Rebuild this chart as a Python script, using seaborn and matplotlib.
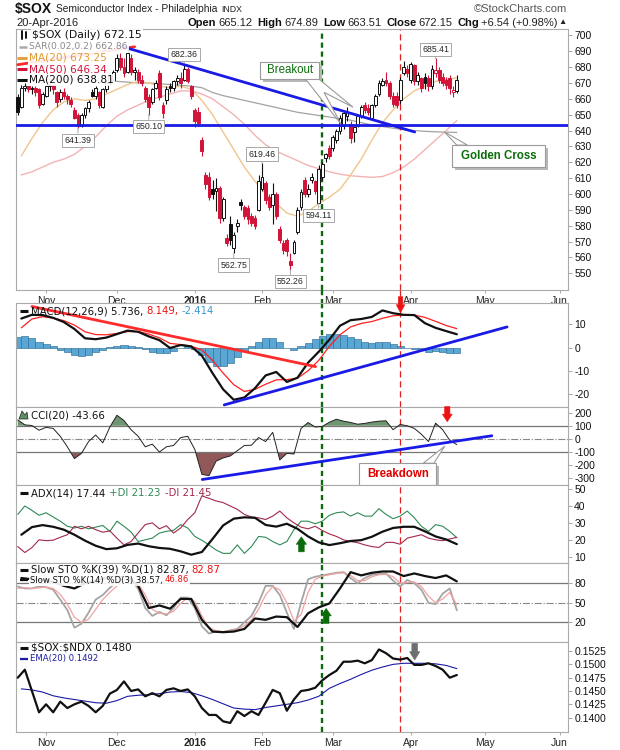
import matplotlib
matplotlib.use("Agg")
import matplotlib.pyplot as plt
from matplotlib.lines import Line2D
from matplotlib.patches import Polygon, Rectangle
from matplotlib.ticker import FormatStrFormatter
import numpy as np
import seaborn as sns

# trading-day index: 0 = 2-Nov-2015 ... 116 = 20-Apr-2016
days = np.arange(-8, 117)
opens = [661, 655, 667, 668, 666, 667, 666, 657, 662, 668, 669, 664, 660, 664, 662, 659, 653, 650, 643, 650,
         654, 664, 662, 664, 655, 666, 670, 672, 678, 686, 680, 677, 686, 677, 677, 672, 667, 661, 658, 667,
         676, 656, 659, 668, 667, 671, 673, 672, 679, 668, 653, 652, 634, 612, 611, 603, 602, 604, 585, 572,
         581, 566, 580, 595, 592, 591, 586, 585, 590, 603, 607, 598, 593, 600, 578, 569, 571, 558, 563, 576,
         592, 609, 600, 609, 608, 594.5, 611, 623, 629, 629, 634, 640, 643, 649, 644, 639, 643, 649, 656, 654,
         648, 656, 663, 669, 672, 670, 662, 662, 659, 676, 679, 672, 681, 671, 673, 674, 673, 668, 676, 678,
         674, 672, 673, 664, 665.12]
highs = [663, 669, 670, 669, 668, 668, 667, 664, 669, 671, 670, 665, 666, 667, 663, 661, 655, 651, 651, 655,
         659, 666, 668, 665, 667, 671, 674, 678, 688, 689, 686, 692.5, 688, 680, 679, 675, 668, 663, 667, 672,
         678, 658, 668, 670, 672, 675, 677, 682.36, 680, 669, 654, 655, 636, 614, 614, 609, 610, 605, 598, 575,
         586, 576, 584, 597, 593, 593, 588, 587, 612, 619.46, 608, 600, 607, 601, 580, 571, 572, 563, 571, 592,
         603, 611, 606, 613, 609, 618, 620, 626, 631, 637, 641, 650, 652, 655, 646, 643, 650, 656, 658, 657,
         657, 663, 672, 673, 677, 671, 664, 664, 674, 684, 681, 683, 682, 677, 674, 676, 675, 681, 685.41, 680,
         676, 674, 675, 668, 674.89]
lows = [650, 654, 665, 664, 663, 662, 654, 656, 661, 665, 663, 655, 658, 660, 657, 655, 647, 641.39, 642, 648,
        652, 661, 660, 654, 654, 664, 669, 671, 677, 678, 674, 676, 675, 672, 670, 668, 658, 650.10, 657, 666,
        659, 648, 657, 664, 665, 669, 667, 671, 670, 660, 642, 643, 624, 603, 596, 597, 589, 582, 583, 567,
        568, 562.75, 576, 590, 584, 581, 580, 578, 589, 602, 594, 590, 581, 584, 569, 562, 561, 552.26, 562, 575,
        590, 598, 598, 607, 600, 594.11, 609, 620, 622, 627, 632, 638, 641, 646, 632, 633, 642, 648, 651, 650,
        647, 655, 662, 668, 668, 660, 655, 654, 657, 675, 674, 670, 669, 669, 664, 666, 665, 666, 674, 670,
        668, 666, 663, 661, 663.51]
closes = [652, 667, 668, 666, 667, 664, 656, 663, 668, 669, 666, 658, 664, 662, 660, 657, 648, 643, 650, 654,
          658, 662, 667, 656, 666, 670, 673, 677, 686, 680, 676, 689, 677, 678, 672, 670, 660, 655, 666, 670,
          661, 651, 666, 666.5, 671, 673, 670, 679, 671, 662, 646, 645, 627, 606, 598, 600, 604, 585, 597, 569,
          571, 574, 582, 593, 586, 584, 582, 580, 608, 611, 596, 592, 600, 586, 571, 565, 564, 555, 570, 590,
          601, 600, 603, 611, 602, 616, 619, 625, 624, 636, 640, 648, 651, 652, 635, 642, 649, 655, 653, 652,
          656, 662, 670, 671, 670, 662, 657, 656, 672, 680, 676, 682, 671, 675, 667, 670, 668, 679, 678, 672,
          670, 669, 667, 665.61, 672.15]

# indicator series, read every 3rd / every 2nd trading day
s_days = np.arange(-7, 117, 3)
g_days = np.arange(-8, 117, 2)
ma20 = [624, 635, 645, 653, 658, 660, 659, 660, 663, 666, 669, 671, 670, 668, 667, 668, 666, 659, 650, 639,
        628, 617, 608, 600, 594, 588, 586, 589, 594, 598, 603, 612, 622, 634, 645, 653, 660, 665, 668, 671,
        672, 673.25]
ma50 = [612, 614, 617, 620, 622, 625, 630, 636, 643, 649, 653, 656, 659, 661, 663, 665, 665, 663, 660, 655,
        650, 644, 637, 631, 627, 624, 621, 618, 616, 614, 612.5, 611.5, 611, 610.5, 611, 613.5, 617, 622, 628, 634,
        640, 646.34]
ma200 = [672, 672, 672, 672, 672, 672, 671.5, 671.5, 671, 671, 670.5, 670, 670, 669.5, 669, 668.5, 668, 667,
         664, 662, 660.5, 659, 657.5, 656, 654.5, 653, 651.5, 650.5, 649.5, 648.5, 647.5, 646.5, 645, 643.5,
         642.5, 641.5, 640.5, 640, 639.5, 639.2, 639, 638.81]
macd = [12.5, 14.1, 14.0, 12.8, 11.0, 8.0, 4.0, 3.6, 4.3, 5.8, 7.3, 6.8, 4.8, 3.2, -0.2, 1.1, 0.5, -3.5, -11,
        -18, -22.5, -21.5, -17.5, -12, -10.5, -14.8, -13, -6.5, -1.8, 3.4, 9.4, 11.8, 12.3, 13.2, 16.0, 14.8,
        14.1, 14.0, 10.5, 8.5, 7.1, 5.736]
signal = [8.5, 12.3, 13.3, 12.7, 11.6, 9.7, 6.8, 5.6, 5.5, 6.1, 6.9, 6.9, 5.8, 4.2, 1.8, 1.3, 0.6, -1.0, -5.5,
          -11, -16, -18.9, -18, -15.8, -13.9, -13.8, -13.2, -10, -5.5, 0.5, 5.5, 8.9, 10.4, 11.2, 12.6, 13.7,
          14.0, 14.0, 13.0, 11.3, 9.5, 8.149]
hist = [4.5, 5.0, 4.0, 2.5, 1.5, 0.5, -1.0, -2.0, -3.0, -3.5, -3.0, -2.0, -1.0, 0.3, 0.8, 1.0, 0.8, 0.2, -0.8,
        -1.8, -2.5, -2.5, -1.5, 0, 0.5, -0.5, -3.0, -6.0, -8.0, -8.0, -6.5, -4.0, -1.5, 0.5, 2.5, 4.0, 4.2, 2.5,
        0, -1.2, 0.5, 2.0, 3.5, 5.0, 6.0, 6.0, 5.5, 4.5, 3.5, 2.5, 2.0, 2.5, 2.5, 1.5, 0.5, 0, -0.5, -1.0, -2.0,
        -1.5, -1.8, -2.2, -2.414]
cci = [145, 107, 102, 66, 88, 80, 20, -60, -150, -110, -20, 30, -30, 90, 180, 140, 70, 20, -60, -40, -100, -60,
       -50, 10, 20, -80, -270, -280, -170, -145, -130, -90, -50, -48, 10, -20, 50, -160, -110, -115, 80, 125,
       90, 95, 127, 150, 135, 125, 112, 118, 128, 135, 138, 70, 110, 100, 80, 35, -20, 120, 70, -11, -43.66]
adx = [23, 27.5, 28.7, 27.7, 26, 23, 19.5, 16.5, 14.5, 15, 17, 17.8, 16.2, 15.2, 14.7, 13.2, 11.2, 12.8, 20.5,
       28.5, 32.5, 33.3, 33, 28.8, 27.8, 29.5, 26.5, 22, 18.5, 16.9, 18, 19.3, 19.8, 21.8, 24.8, 27, 27.7, 27.7,
       25, 22, 20.2, 17.44]
plus_di = [35, 40, 37.4, 34.5, 36, 33.5, 31, 28, 27, 28, 26.5, 27.5, 28.5, 25, 31, 28, 24.6, 19, 20, 21, 24, 25,
           25.6, 29, 27, 22, 19.7, 17, 14, 12, 12, 17, 12, 16, 22, 21.5, 19, 17, 19, 26, 31, 31, 29.5, 31, 34.5,
           36, 36.5, 34, 36, 34, 34, 38.4, 35, 32.5, 34, 37, 33, 28, 25, 29, 28, 25, 21.23]
minus_di = [16, 12.5, 15.4, 20, 19.5, 19.8, 21.5, 23, 28, 26.5, 28, 26, 24.5, 25.3, 21, 17, 19, 24, 29, 30,
            26.5, 28.3, 24, 27, 32, 36, 46, 44.5, 43, 42, 40, 38, 35, 33.5, 33, 32, 34, 37, 33, 30, 27.5, 26.5,
            28, 25.5, 23.5, 22, 20, 19, 18.3, 17, 16, 15.5, 18.5, 18.5, 17.4, 21, 22, 23, 21, 20, 19.5, 20.5,
            21.45]
sto39 = [88, 86, 85, 82, 76, 72, 80, 84, 88, 92, 90, 76, 42, 46, 41, 56, 56, 24, 6, 5, 6, 10, 26, 24, 29, 28,
         13, 34, 43, 49, 72, 97, 92, 96, 98, 98, 91, 95, 91, 88, 92, 82.87]
sto14_k = [75, 72, 72, 75, 74, 70, 55, 39, 12, 18, 35, 55, 62, 73, 82, 86, 84, 72, 42, 30, 36, 31, 42, 58, 58,
           42, 14, 3, 6, 5, 8, 10, 20, 30, 50, 76, 76, 62, 35, 10, 50, 86, 90, 92, 94, 96, 97, 88, 80, 88, 93,
           94, 95, 84, 75, 85, 80, 70, 50, 48, 64, 72, 38.57]
sto14_d = [72, 73, 72, 73, 74, 72, 63, 48, 28, 20, 25, 40, 55, 66, 76, 83, 85, 80, 62, 40, 34, 33, 37, 49, 58,
           52, 30, 12, 7, 6, 7, 9, 15, 24, 40, 62, 75, 70, 50, 22, 32, 66, 86, 91, 93, 95, 96, 92, 84, 84, 90,
           93, 94, 90, 80, 81, 82, 75, 60, 50, 56, 66, 46.86]
ratio = [0.1475, 0.1490, 0.1450, 0.1410, 0.1425, 0.1410, 0.1430, 0.1418, 0.1425, 0.1430, 0.1422, 0.1410,
         0.1422, 0.1445, 0.1452, 0.1468, 0.1450, 0.1453, 0.1440, 0.1446, 0.1440, 0.1452, 0.1455, 0.1450, 0.1453,
         0.1440, 0.1418, 0.1405, 0.1405, 0.1393, 0.1390, 0.1412, 0.1403, 0.1412, 0.1405, 0.1428, 0.1452, 0.1446,
         0.1413, 0.1434, 0.1450, 0.1452, 0.1456, 0.1470, 0.1480, 0.1488, 0.1505, 0.1505, 0.1507, 0.1502, 0.1508,
         0.1528, 0.1521, 0.1511, 0.1509, 0.1512, 0.1499, 0.1499, 0.1502, 0.1497, 0.1490, 0.1475, 0.1480]
ratio_ema = [0.1454, 0.1452, 0.1448, 0.1441, 0.1437, 0.1434, 0.1431, 0.1428, 0.1427, 0.1432, 0.1440, 0.1442,
             0.1443, 0.1445, 0.1448, 0.1449, 0.1447, 0.1441, 0.1434, 0.1426, 0.1418, 0.1416, 0.1415, 0.1419,
             0.1422, 0.1425, 0.1428, 0.1433, 0.1440, 0.1455, 0.1464, 0.1472, 0.1481, 0.1489, 0.1495, 0.1500,
             0.1502, 0.1502, 0.1502, 0.1501, 0.1498, 0.1492]

month_pos = [0, 20, 42, 61, 81, 103, 124, 145]
month_lbl = ["Nov", "Dec", "2016", "Feb", "Mar", "Apr", "May", "Jun"]
label_days = [9, 29, 39, 53, 61, 69, 77, 110]
label_side = ["low", "low", "high", "low", "high", "low", "low", "high"]
breakout_day = 78
breakdown_day = 100

sns.set_theme(style="white")
plt.rcParams["font.family"] = ["Liberation Sans", "DejaVu Sans"]
plt.rcParams["axes.unicode_minus"] = False

W, H = 620, 750
fig = plt.figure(figsize=(W / 100, H / 100), dpi=100)
fig.patch.set_facecolor("white")


def rect(top, bottom):
    return [16 / W, 1 - bottom / H, 552 / W, (bottom - top) / H]


ax_p = fig.add_axes(rect(29, 290))
ax_m = fig.add_axes(rect(303, 407), sharex=ax_p)
ax_c = fig.add_axes(rect(407, 485), sharex=ax_p)
ax_a = fig.add_axes(rect(485, 563), sharex=ax_p)
ax_s = fig.add_axes(rect(563, 642), sharex=ax_p)
ax_r = fig.add_axes(rect(642, 732), sharex=ax_p)
panels = [ax_p, ax_m, ax_c, ax_a, ax_s, ax_r]

for ax in panels:
    ax.set_facecolor("white")
    for sp in ax.spines.values():
        sp.set_color("#aaaaaa")
        sp.set_linewidth(0.8)
    ax.yaxis.tick_right()
    ax.tick_params(axis="y", right=True, left=False, length=3, width=0.6, color="#999999",
                   labelsize=7.5, pad=1.5, labelcolor="#111111")
    ax.tick_params(axis="x", bottom=False, labelbottom=False)
    ax.grid(False)
    ax.axvline(breakout_day, color="#0b6b0b", lw=1.7, ls=(0, (2.2, 1.6)), zorder=2.5)
    ax.axvline(breakdown_day, color="#e02020", lw=0.9, ls=(0, (5, 3)), zorder=2.5)

ax_p.set_xlim(-8.5, 147.4)
ax_p.set_xticks(month_pos)
ax_p.set_xticklabels(month_lbl)
for ax in (ax_p, ax_r):
    ax.tick_params(axis="x", bottom=True, labelbottom=True, length=2, width=0.6, color="#999999",
                   labelsize=7.5, pad=2)
    ax.get_xticklabels()[2].set_fontweight("bold")

# ---------------- price panel ----------------
o, hi, lo, c = map(np.array, (opens, highs, lows, closes))
prev = np.concatenate([[c[0]], c[:-1]])
edge = np.where(c < prev, "#d2143a", "#111111")
face = np.where(c < o, edge, "white")
ax_p.vlines(days, lo, hi, colors=list(edge), lw=0.8, zorder=3)
ax_p.bar(days, np.maximum(np.abs(c - o), 0.35), bottom=np.minimum(o, c), width=0.8,
         color=list(face), edgecolor=list(edge), linewidth=0.7, zorder=4)

sns.lineplot(x=s_days, y=ma200, ax=ax_p, color="#a2a2a2", lw=0.9, zorder=2)
sns.lineplot(x=s_days, y=ma50, ax=ax_p, color="#f3b3b3", lw=1.0, zorder=2)
sns.lineplot(x=s_days, y=ma20, ax=ax_p, color="#f0c68c", lw=1.0, zorder=2)

ax_p.plot([-8, 25], [681.5, 692.8], color="#ff2a2a", lw=2.0, zorder=5)
ax_p.plot([21.2, 104.1], [693.1, 639.1], color="#1a1ae6", lw=2.0, zorder=5)
ax_p.axhline(643.5, color="#1a1ae6", lw=2.0, zorder=5)
ax_p.set_ylim(539.5, 704)
ax_p.set_yticks(np.arange(550, 701, 10))

for d, side in zip(label_days, label_side):
    i = d + 8
    val = highs[i] if side == "high" else lows[i]
    dy = 6.5 if side == "high" else -8.6
    ax_p.annotate(f"{val:.2f}", xy=(d, val), xytext=(0, dy), textcoords="offset points",
                  ha="center", va="center", fontsize=6.3, zorder=8,
                  bbox=dict(boxstyle="square,pad=0.25", fc="white", ec="#a8a8a8", lw=0.7),
                  arrowprops=dict(arrowstyle="-", color="#a8a8a8", lw=0.7, shrinkA=0, shrinkB=0))


def callout(ax, x0, x1, y0, y1, sx, sy, text, color, tail, weight="normal"):
    ax.add_patch(Rectangle((x0 + sx, y0 - sy), x1 - x0, y1 - y0, fc="#b8b8b8", ec="none",
                           zorder=9, clip_on=False))
    ax.add_patch(Polygon(tail, closed=True, fc="white", ec="#9a9a9a", lw=0.8, zorder=9.5, clip_on=False))
    ax.add_patch(Rectangle((x0, y0), x1 - x0, y1 - y0, fc="white", ec="#9a9a9a", lw=0.8,
                           zorder=10, clip_on=False))
    ax.text((x0 + x1) / 2, (y0 + y1) / 2, text, color=color, fontsize=8.3, fontweight=weight,
            ha="center", va="center", zorder=11)


callout(ax_p, 60.4, 77.2, 672.8, 683.2, 0.85, 1.9, "Breakout", "#0a6e0a",
        [(73.1, 672.9), (83.3, 644.0), (78.5, 664.1), (86.7, 654.7), (76.8, 672.9)])
callout(ax_p, 114.7, 141.0, 617.1, 630.8, 0.85, 1.9, "Golden Cross", "#0a6e0a",
        [(116.0, 630.8), (112.4, 639.3), (119.0, 630.8)], weight="bold")


def block_arrow(ax, x, y_tail, y_tip, color, half_w, head_w, head_frac=0.5):
    y_neck = y_tip - head_frac * (y_tip - y_tail)
    pts = [(x - half_w, y_tail), (x + half_w, y_tail), (x + half_w, y_neck), (x + head_w, y_neck),
           (x, y_tip), (x - head_w, y_neck), (x - half_w, y_neck)]
    ax.add_patch(Polygon(pts, closed=True, fc=color, ec=color, lw=0.4, zorder=12, clip_on=False))


# ---------------- MACD ----------------
ax_m.bar(g_days, hist, width=2.0, color="#5aa6d4", edgecolor="#2f6f96", linewidth=0.45, zorder=1)
sns.lineplot(x=s_days, y=signal, ax=ax_m, color="#ff2020", lw=0.9, zorder=3)
sns.lineplot(x=s_days, y=macd, ax=ax_m, color="#111111", lw=1.6, zorder=4)
ax_m.plot([-4, 76.1], [17.7, -8.2], color="#ff2a2a", lw=2.0, zorder=5)
ax_m.plot([50.3, 130.2], [-24.7, 8.9], color="#1a1ae6", lw=2.0, zorder=5, clip_on=False)
ax_m.set_ylim(-25.6, 19.2)
ax_m.set_yticks([10, 0, -10, -20])
block_arrow(ax_m, 100.1, 21.9, 15.0, "#ee1111", 0.62, 1.2)

# ---------------- CCI ----------------
cci_a = np.array(cci, dtype=float)
ax_c.fill_between(g_days, cci_a, 100, where=cci_a > 100, interpolate=True, color="#6e9670", lw=0, zorder=1)
ax_c.fill_between(g_days, cci_a, -100, where=cci_a < -100, interpolate=True, color="#915858", lw=0, zorder=1)
ax_c.axhline(100, color="#777777", lw=0.9, zorder=1.5)
ax_c.axhline(-100, color="#777777", lw=0.9, zorder=1.5)
ax_c.axhline(0, color="#888888", lw=0.8, ls="-.", zorder=1.5)
sns.lineplot(x=g_days, y=cci, ax=ax_c, color="#222222", lw=0.7, zorder=3)
ax_c.plot([44.1, 125.9], [-309, 24], color="#1a1ae6", lw=2.0, zorder=5)
ax_c.set_ylim(-351, 243)
ax_c.set_yticks([200, 100, 0, -100, -200, -300])
block_arrow(ax_c, 113.3, 246, 131, "#ee1111", 0.75, 1.4)
callout(ax_c, 88.4, 110.2, -351, -185.5, 0.85, 23, "Breakdown", "#e00000",
        [(106.5, -185.5), (112.6, -55), (109.5, -185.5)], weight="bold")

# ---------------- ADX ----------------
sns.lineplot(x=g_days, y=plus_di, ax=ax_a, color="#2f8a55", lw=0.8, zorder=3)
sns.lineplot(x=g_days, y=minus_di, ax=ax_a, color="#a3284c", lw=0.8, zorder=3)
sns.lineplot(x=s_days, y=adx, ax=ax_a, color="#111111", lw=1.6, zorder=4)
ax_a.set_ylim(6.3, 52.4)
ax_a.set_yticks([10, 20, 30, 40, 50])
block_arrow(ax_a, 72.1, 12.9, 21.8, "#0b6b0b", 0.8, 1.45)

# ---------------- Slow STO ----------------
ax_s.axhline(80, color="#777777", lw=0.9, zorder=1.5)
ax_s.axhline(20, color="#777777", lw=0.9, zorder=1.5)
ax_s.axhline(50, color="#888888", lw=0.8, ls="-.", zorder=1.5)
sns.lineplot(x=g_days, y=sto14_k, ax=ax_s, color="#a5a5a5", lw=1.3, zorder=3)
sns.lineplot(x=g_days, y=sto14_d, ax=ax_s, color="#f2a2a2", lw=0.9, zorder=3)
sns.lineplot(x=s_days, y=sto39, ax=ax_s, color="#111111", lw=1.6, zorder=4)
ax_s.set_ylim(-10, 111)
ax_s.set_yticks([20, 50, 80])
block_arrow(ax_s, 79.1, 18.5, 41.5, "#0b6b0b", 0.8, 1.45)

# ---------------- $SOX:$NDX ----------------
sns.lineplot(x=s_days, y=ratio_ema, ax=ax_r, color="#1a1aa6", lw=0.8, zorder=3)
sns.lineplot(x=g_days, y=ratio, ax=ax_r, color="#111111", lw=1.6, zorder=4)
ax_r.set_ylim(0.1373, 0.1542)
ax_r.set_yticks([0.14, 0.1425, 0.145, 0.1475, 0.15, 0.1525])
ax_r.yaxis.set_major_formatter(FormatStrFormatter("%.4f"))
block_arrow(ax_r, 104.1, 0.15394, 0.15081, "#6e6e6e", 0.8, 1.45)

for ax in panels:
    ax.set_xlabel("")
    ax.set_ylabel("")
    ax.set_xlim(-8.5, 147.4)

# dashed verticals across the label row between price and MACD
for d, col, lw, ls in ((breakout_day, "#0b6b0b", 1.7, (0, (2.2, 1.6))),
                       (breakdown_day, "#e02020", 0.9, (0, (5, 3)))):
    xf = (16 + (d + 8.5) * 552 / 155.9) / W
    fig.add_artist(Line2D([xf, xf], [1 - 290 / H, 1 - 303 / H], color=col, lw=lw, ls=ls,
                          transform=fig.transFigure, zorder=1))

# ---------------- texts ----------------
renderer = fig.canvas.get_renderer()


def chain(x, y, parts, ha="left", family=None, bg=False):
    items = []
    for txt, color, size, weight, gap in parts:
        kw = dict(color=color, fontsize=size, fontweight=weight, va="center", ha="left", zorder=5)
        if family:
            kw["family"] = family
        if bg:
            kw["bbox"] = dict(fc="white", ec="none", pad=0.8, alpha=0.9)
        t = fig.text(0, 1 - y / H, txt, **kw)
        w = t.get_window_extent(renderer).width
        items.append((t, w + gap))
    total = sum(w for _, w in items)
    pos = x - total if ha == "right" else x
    for t, w in items:
        t.set_x(pos / W)
        pos += w
    return pos


def icon(x0, x1, y, color, lw=2.2):
    fig.add_artist(Line2D([x0 / W, x1 / W], [1 - y / H] * 2, color=color, lw=lw,
                          transform=fig.transFigure, zorder=6, solid_capstyle="butt"))


chain(15, 9, [(r"\$SOX", "#111111", 10, "bold", 4),
              ("Semiconductor Index - Philadelphia", "#222222", 7.4, "normal", 4),
              ("INDX", "#222222", 6.3, "normal", 0)])
chain(567, 9, [("\u00a9StockCharts.com", "#555555", 8, "normal", 0)], ha="right")
chain(16, 23, [("20-Apr-2016", "#222222", 8, "normal", 0)])
chain(567, 23, [("Open", "#111111", 8, "bold", 2), ("665.12", "#222222", 8, "normal", 5),
                ("High", "#111111", 8, "bold", 2), ("674.89", "#222222", 8, "normal", 5),
                ("Low", "#111111", 8, "bold", 2), ("663.51", "#222222", 8, "normal", 5),
                ("Close", "#111111", 8, "bold", 2), ("672.15", "#222222", 8, "normal", 5),
                ("Chg", "#111111", 8, "bold", 2), ("+6.54 (+0.98%)", "#222222", 8, "normal", 1),
                ("\u25b2", "#222222", 6, "normal", 0)], ha="right")

leg = "DejaVu Sans"
# price legend
fig.add_artist(Line2D([22 / W, 22 / W], [1 - 31 / H, 1 - 39 / H], color="#111111", lw=1.4,
                      transform=fig.transFigure, zorder=6))
fig.add_artist(Line2D([26 / W, 26 / W], [1 - 32 / H, 1 - 38 / H], color="#111111", lw=1.4,
                      transform=fig.transFigure, zorder=6))
chain(32, 35, [(r"\$SOX (Daily) 672.15", "#111111", 7.8, "normal", 0)], family=leg, bg=True)
icon(19, 27, 47, "#aaaaaa", 1.8)
chain(29, 47, [("SAR(0.02,0.2) 662.86", "#8a8a8a", 6.6, "normal", 0)], family=leg, bg=True)
icon(17, 27, 58, "#e2a040")
chain(29, 58, [("MA(20) 673.25", "#e09a30", 7.6, "normal", 0)], family=leg, bg=True)
icon(17, 27, 69, "#d2143a")
chain(29, 69, [("MA(50) 646.34", "#d2143a", 7.6, "normal", 0)], family=leg, bg=True)
icon(17, 27, 80, "#111111")
chain(29, 80, [("MA(200) 638.81", "#111111", 7.6, "normal", 0)], family=leg, bg=True)

icon(20, 28, 311, "#111111")
chain(31, 311, [("MACD(12,26,9) 5.736,", "#111111", 7.3, "normal", 3),
                ("8.149,", "#ee1111", 7.3, "normal", 3),
                ("-2.414", "#3a9ad0", 7.3, "normal", 0)], family=leg)

fig.add_artist(Polygon([(19 / W, 1 - 419 / H), (22 / W, 1 - 411 / H), (25 / W, 1 - 415 / H),
                        (27 / W, 1 - 412 / H), (28 / W, 1 - 419 / H)], closed=True, fc="#5f8f62",
                       ec="#222222", lw=0.5, transform=fig.transFigure, zorder=6))
chain(31, 415, [("CCI(20) -43.66", "#111111", 7.3, "normal", 0)], family=leg, bg=True)

icon(20, 28, 493, "#111111")
chain(31, 493, [("ADX(14) 17.44", "#111111", 7.3, "normal", 4),
                ("+DI 21.23", "#2f8a55", 7.3, "normal", 4),
                ("-DI 21.45", "#a3284c", 7.3, "normal", 0)], family=leg)

icon(20, 28, 570, "#111111")
chain(31, 570, [("Slow STO %K(39) %D(1) 82.87,", "#111111", 7.3, "normal", 3),
                ("82.87", "#ee1111", 7.3, "normal", 0)], family=leg, bg=True)
icon(20, 28, 580, "#111111", 1.6)
chain(30, 580, [("Slow STO %K(14) %D(3) 38.57,", "#111111", 6.1, "normal", 2),
                ("46.86", "#ee1111", 6.1, "normal", 0)], family=leg, bg=True)

icon(20, 28, 648, "#111111")
chain(31, 648, [(r"\$SOX:\$NDX 0.1480", "#111111", 7.5, "normal", 0)], family=leg)
icon(20, 28, 659, "#1a1aa6", 1.6)
chain(30, 659, [("EMA(20) 0.1492", "#1a1aa6", 6.1, "normal", 0)], family=leg)

fig.savefig("out.png", dpi=100, facecolor="white")
